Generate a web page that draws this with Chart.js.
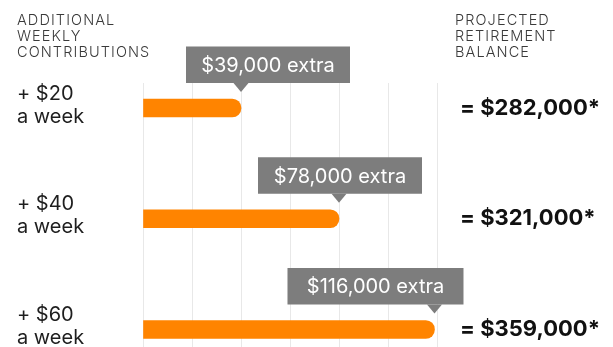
<!DOCTYPE html>
<html>
<head>
<meta charset="utf-8">
<script src="https://cdn.jsdelivr.net/npm/chart.js@4"></script>
<style>
  html, body { margin: 0; padding: 0; background: #fff; overflow: hidden; }
  #wrap { position: relative; width: 613px; height: 347px; }
  .hdr { position: absolute; font-family: Inter, sans-serif; font-weight: 300; font-size: 14.5px;
         line-height: 16px; color: #3a3a3a; letter-spacing: 1.1px; white-space: pre; }
</style>
</head>
<body>
<div id="wrap">
  <div class="hdr" style="left:17px; top:12px;">ADDITIONAL
WEEKLY
CONTRIBUTIONS</div>
  <div class="hdr" style="left:455px; top:12px;">PROJECTED
RETIREMENT
BALANCE</div>
  <canvas id="c"></canvas>
</div>
<script>
// ---- data ----
const contributions = ['+ $20', '+ $40', '+ $60'];
const contributionSub = ['a week', 'a week', 'a week'];
const extraAmounts = [39000, 78000, 116000];
const extraLabels = ['$39,000 extra', '$78,000 extra', '$116,000 extra'];
const balances = ['= $282,000*', '= $321,000*', '= $359,000*'];

// ---- layout / style (not data) ----
const calloutLeft = [-55, -81, -147];
const calloutWidth = [164, 164, 176];

const callouts = {
  id: 'callouts',
  afterDatasetsDraw(chart) {
    const ctx = chart.ctx;
    const meta = chart.getDatasetMeta(0);
    meta.data.forEach((bar, i) => {
      const tipX = bar.x, cy = bar.y;
      const boxBottom = cy - 25, boxH = 36.5;
      const left = tipX + calloutLeft[i], w = calloutWidth[i];
      ctx.save();
      ctx.fillStyle = '#7d7d7d';
      ctx.fillRect(left, boxBottom - boxH, w, boxH);
      ctx.beginPath();
      ctx.moveTo(tipX - 7.5, boxBottom);
      ctx.lineTo(tipX + 7.5, boxBottom);
      ctx.lineTo(tipX, cy - 16);
      ctx.closePath();
      ctx.fill();
      ctx.fillStyle = '#ffffff';
      ctx.font = '20px Inter, sans-serif';
      ctx.textAlign = 'center';
      ctx.textBaseline = 'middle';
      ctx.fillText(extraLabels[i], left + w / 2, boxBottom - boxH / 2 + 1);
      ctx.restore();
    });
  }
};

const yRange = { min: -0.2257, max: 2.158 };
function fixedTicks(scale) {
  scale.ticks = contributions.map((_, i) => ({ value: i }));
}
function noPad(s) { s.paddingTop = 0; s.paddingBottom = 0; s.paddingLeft = 0; s.paddingRight = 0; }

new Chart(document.getElementById('c'), {
  type: 'bar',
  data: {
    datasets: [{
      data: extraAmounts.map((v, i) => ({ x: v, y: i })),
      backgroundColor: '#ff8400',
      borderRadius: 9,
      borderSkipped: 'start',
      barThickness: 18,
      yAxisID: 'y'
    }]
  },
  plugins: [callouts],
  options: {
    indexAxis: 'y',
    responsive: true,
    maintainAspectRatio: false,
    animation: false,
    layout: { autoPadding: false, padding: { left: 17, top: 83, right: 0, bottom: 0 } },
    plugins: { legend: { display: false }, tooltip: { enabled: false } },
    scales: {
      x: {
        type: 'linear', min: 0, max: 117000, position: 'bottom',
        ticks: { display: false, stepSize: 19500 },
        grid: { color: '#e8e8e8', lineWidth: 1, drawTicks: false },
        border: { display: false },
        afterFit(s) { s.height = 0; noPad(s); }
      },
      y: {
        type: 'linear', position: 'left', reverse: true, offset: false,
        min: yRange.min, max: yRange.max,
        afterBuildTicks: fixedTicks,
        afterFit(s) { s.width = 126; noPad(s); },
        grid: { display: false, drawTicks: false },
        border: { display: false },
        ticks: {
          crossAlign: 'far', labelOffset: -3,
          color: '#1e1e1e',
          font: { family: 'Inter, sans-serif', size: 20, lineHeight: 1.15 },
          callback: (v) => { const i = Math.round(v); return [contributions[i], contributionSub[i]]; }
        }
      },
      y2: {
        type: 'linear', position: 'right', reverse: true, offset: false,
        min: yRange.min, max: yRange.max,
        afterBuildTicks: fixedTicks,
        afterFit(s) { s.width = 176; noPad(s); },
        grid: { display: false, drawTicks: false },
        border: { display: false },
        ticks: {
          padding: 23, crossAlign: 'near',
          color: '#111111',
          font: { family: 'Inter, sans-serif', size: 22, weight: 'bold' },
          callback: (v) => balances[Math.round(v)]
        }
      }
    }
  }
});
</script>
</body>
</html>
